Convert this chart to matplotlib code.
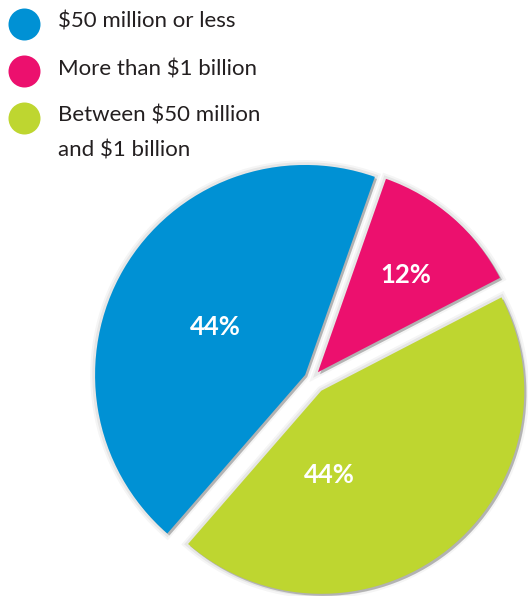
import numpy as np
import matplotlib.pyplot as plt
import matplotlib.patheffects as pe

# data
categories = ['\\$50 million or less', 'More than \\$1 billion',
              'Between \\$50 million\nand \\$1 billion']
shares = [44, 12, 44]
pct_labels = ['44%', '12%', '44%']
colors = ['#0091D4', '#EC106E', '#BED630']

plt.rcParams['font.family'] = ['Lato', 'DejaVu Sans']

W, H = 528, 596
R = 207.0          # base pie radius in pixels
cx, cy = 312, 379  # pie centre in pixels (from top)
explode_px = [8, 9, 15]          # how far each wedge is pulled out
radius_px = [210, 205, 203]      # the original draws wedges slightly uneven

fig = plt.figure(figsize=(W / 100, H / 100), dpi=100)
ax = fig.add_axes([0, 0, 1, 1])

wedges, _ = ax.pie(shares, colors=colors, startangle=229, counterclock=False,
                   explode=[e / R for e in explode_px], radius=1.0,
                   wedgeprops=dict(linewidth=0))

shadow = [pe.Stroke(linewidth=7, foreground='#000000', alpha=0.04),
          pe.Stroke(linewidth=4, foreground='#000000', alpha=0.06),
          pe.SimplePatchShadow(offset=(1.5, -1.5), shadow_rgbFace='#555555', alpha=0.35),
          pe.Normal()]
for w, r in zip(wedges, radius_px):
    w.set_radius(r / R)
    w.set_path_effects(shadow)

ax.set_xlim(-cx / R, (W - cx) / R)
ax.set_ylim(-(H - cy) / R, cy / R)
ax.set_aspect('auto')
ax.axis('off')

# percentage labels: (distance from centre, angle) per wedge
label_pos = [(0.53, 152), (0.675, 48), (0.47, -80)]
for txt, (d, ang) in zip(pct_labels, label_pos):
    a = np.deg2rad(ang)
    ax.text(d * np.cos(a), d * np.sin(a), txt, color='white', fontsize=18.5,
            fontweight='bold', ha='center', va='center')

# legend drawn by hand so the dot sits on the first line
lg = fig.add_axes([0, 0, 1, 1])
lg.set_xlim(0, W)
lg.set_ylim(H, 0)
lg.axis('off')
leg_y = [24, 71, 118]
for lab, col, y in zip(categories, colors, leg_y):
    lg.scatter([24], [y], s=(32 * 0.72) ** 2, color=col, linewidths=0)
    lg.text(58, y - 12, lab, fontsize=16, color='#231F20', ha='left', va='top',
            linespacing=1.9)

fig.savefig('out.png', dpi=100)
